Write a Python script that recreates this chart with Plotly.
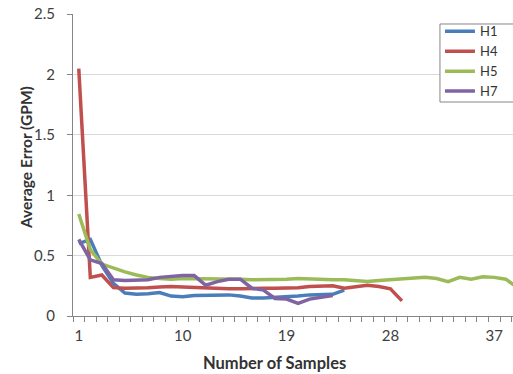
import plotly.graph_objects as go

# Data
samples_h1 = list(range(1, 25))
h1 = [0.60, 0.635, 0.42, 0.27, 0.19, 0.18, 0.185, 0.195, 0.165, 0.16, 0.17, 0.17,
      0.17, 0.175, 0.165, 0.15, 0.15, 0.155, 0.155, 0.165, 0.175, 0.175, 0.18, 0.215]

samples_h4 = list(range(1, 30))
h4 = [2.05, 0.32, 0.34, 0.235, 0.23, 0.23, 0.235, 0.24, 0.245, 0.24, 0.235, 0.23,
      0.225, 0.225, 0.225, 0.23, 0.23, 0.23, 0.23, 0.235, 0.245, 0.25, 0.25, 0.23,
      0.245, 0.255, 0.245, 0.225, 0.125]

samples_h5 = list(range(1, 40))
h5 = [0.845, 0.55, 0.43, 0.395, 0.365, 0.34, 0.32, 0.31, 0.305, 0.31, 0.31, 0.31,
      0.305, 0.305, 0.305, 0.30, 0.30, 0.30, 0.305, 0.31, 0.305, 0.30, 0.30, 0.30,
      0.29, 0.285, 0.295, 0.30, 0.305, 0.308, 0.32, 0.31, 0.285, 0.32, 0.305, 0.325,
      0.32, 0.305, 0.235]

samples_h7 = list(range(1, 24))
h7 = [0.635, 0.465, 0.435, 0.30, 0.295, 0.295, 0.30, 0.32, 0.33, 0.335, 0.335, 0.255,
      0.285, 0.305, 0.305, 0.23, 0.215, 0.145, 0.14, 0.105, 0.14, 0.155, 0.17]

y_tickvals = [0, 0.5, 1, 1.5, 2, 2.5]
y_ticktext = ["0", "0.5", "1", "1.5", "2", "2.5"]
x_tickvals = [1, 10, 19, 28, 37]
x_ticktext = ["1", "10", "19", "28", "37"]

series = [
    ("H1", samples_h1, h1, "#4A7EBB"),
    ("H4", samples_h4, h4, "#C0504D"),
    ("H5", samples_h5, h5, "#9BBB59"),
    ("H7", samples_h7, h7, "#8064A2"),
]

FONT = "Lato, 'Open Sans', sans-serif"
AXIS = "#868686"

fig = go.Figure()
for name, xs, ys, color in series:
    fig.add_trace(go.Scatter(x=xs, y=ys, name=name, mode="lines",
                             line=dict(color=color, width=3.5)))

fig.update_layout(
    width=513, height=374,
    margin=dict(l=73, r=0, t=14, b=58, autoexpand=False),
    paper_bgcolor="white", plot_bgcolor="white",
    font=dict(family=FONT, size=15, color="#404040"),
    showlegend=True,
    legend=dict(x=0.834, y=0.992, xanchor="left", yanchor="top",
                borderwidth=0, bgcolor="rgba(0,0,0,0)",
                font=dict(size=13, color="#333333"),
                tracegroupgap=0, itemwidth=30),
    shapes=[dict(type="rect", xref="paper", yref="paper",
                 x0=0.834, x1=1.03, y0=0.7086, y1=0.9669, layer="above",
                 fillcolor="white", line=dict(color=AXIS, width=1))],
    xaxis=dict(range=[0.5, 38.62], tickmode="array", tickvals=x_tickvals,
               ticktext=x_ticktext, ticks="", showgrid=False, zeroline=False,
               automargin=False, ticklabeloverflow="allow",
               showline=True, linecolor=AXIS, linewidth=1, ticklabelstandoff=6,
               minor=dict(tickmode="linear", tick0=0.5, dtick=1, ticks="outside",
                          ticklen=5, tickcolor=AXIS, showgrid=False)),
    yaxis=dict(range=[0, 2.502], tickmode="array", tickvals=y_tickvals,
               ticktext=y_ticktext, ticks="outside", ticklen=5, tickcolor=AXIS,
               automargin=False, ticklabeloverflow="allow",
               showgrid=True, gridcolor="#D9D9D9", gridwidth=1, zeroline=False,
               showline=True, linecolor=AXIS, linewidth=1, ticklabelstandoff=9),
    annotations=[
        dict(text="<b>Average Error (GPM)</b>", xref="paper", yref="paper",
             x=-0.1068, y=0.523, xanchor="center", yanchor="middle",
             textangle=-90, showarrow=False, font=dict(size=15.5, color="#333333")),
        dict(text="<b>Number of Samples</b>", xref="paper", yref="paper",
             x=0.459, y=-0.1556, xanchor="center", yanchor="middle",
             showarrow=False, font=dict(size=16.5, color="#333333")),
    ],
)

# remove the browser's default 8px page margin so the figure fills the window
fig.write_html("out.html",
               config={"displayModeBar": False},
               post_script="document.body.style.margin='0';"
                           "document.body.style.overflow='hidden';")
